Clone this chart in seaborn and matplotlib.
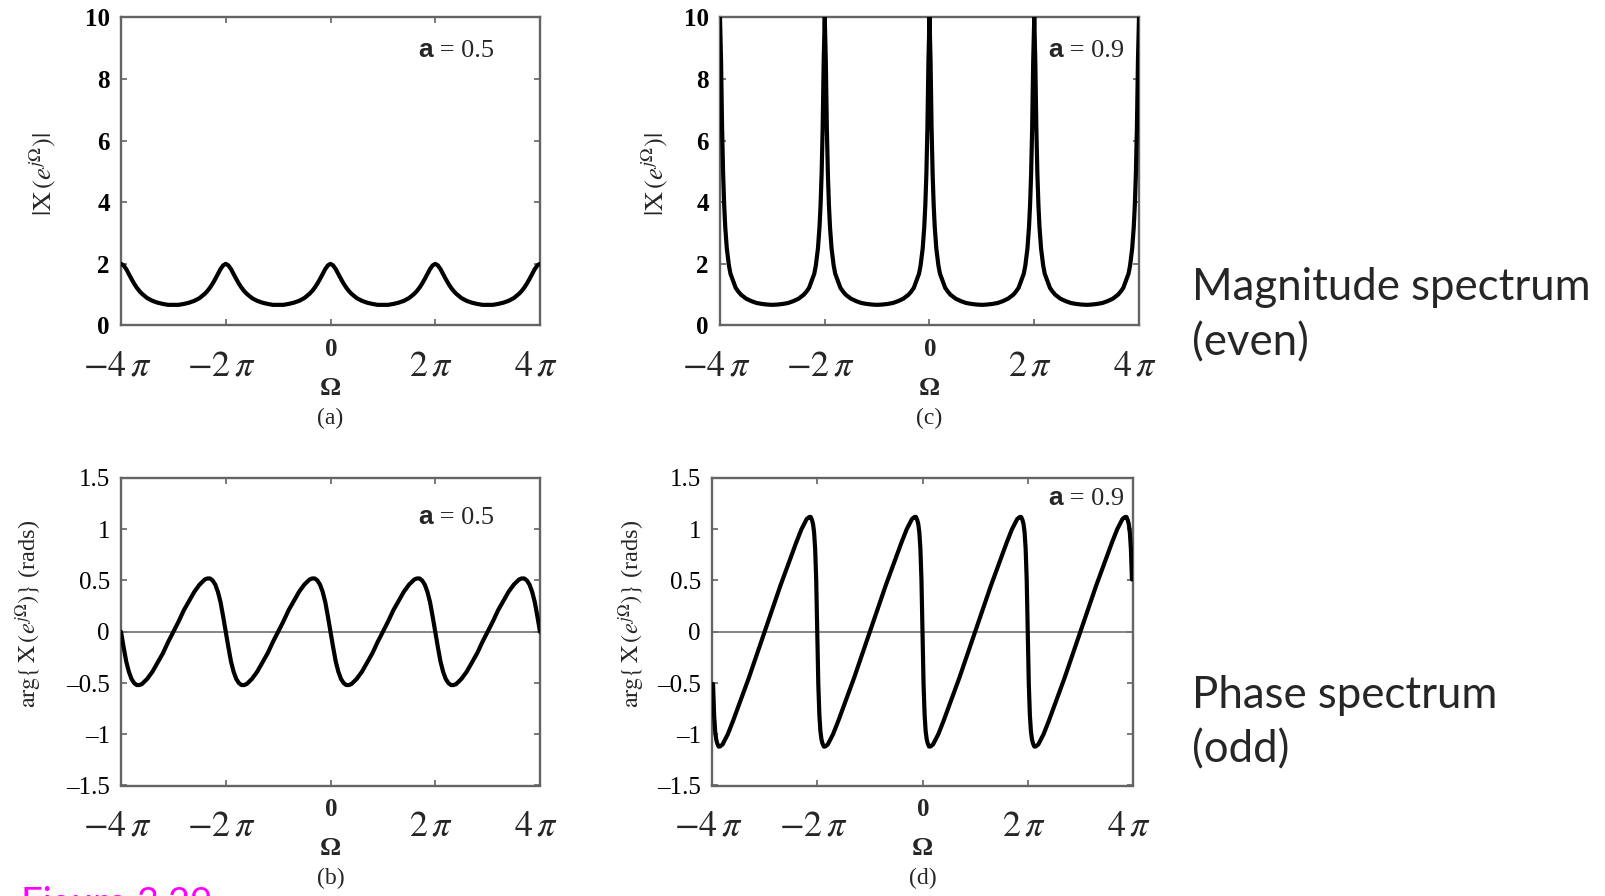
import numpy as np
import pandas as pd
import matplotlib
matplotlib.use("Agg")
import matplotlib.pyplot as plt
import seaborn as sns

# x[n] = a^n u[n], shown for two values of a
a_left = 0.5
a_right = 0.9

# Each trace is 2π-periodic; one period is listed, Ω in units of π,
# measured from a peak of |X| (Ω = 0, ±2π, ±4π).
mag_a05_offset = [0, .05, .1, .15, .2, .25, .3, .35, .4, .5, .6, .7, .8, .9, 1.0,
                  1.1, 1.2, 1.3, 1.4, 1.5, 1.6, 1.65, 1.7, 1.75, 1.8, 1.85, 1.9, 1.95, 2.0]
mag_a05_value = [2.0, 1.95, 1.83, 1.67, 1.51, 1.36, 1.23, 1.12, 1.03, 0.89, 0.80, 0.74, 0.70, 0.67, 0.67,
                 0.67, 0.70, 0.74, 0.80, 0.89, 1.03, 1.12, 1.23, 1.36, 1.51, 1.67, 1.83, 1.95, 2.0]

mag_a09_offset = [0, .02, .04, .06, .08, .1, .13, .17, .2, .25, .3, .35, .4, .5, .6, .7, .8, .9, 1.0,
                  1.1, 1.2, 1.3, 1.4, 1.5, 1.6, 1.65, 1.7, 1.75, 1.8, 1.83, 1.87, 1.9, 1.92, 1.94,
                  1.96, 1.98, 2.0]
mag_a09_value = [10.0, 8.6, 6.4, 4.9, 3.9, 3.2, 2.5, 1.95, 1.68, 1.45, 1.22, 1.10, 1.00, 0.87, 0.79,
                 0.73, 0.70, 0.68, 0.67, 0.68, 0.70, 0.73, 0.79, 0.87, 1.00, 1.10, 1.22, 1.45, 1.68,
                 1.95, 2.5, 3.2, 3.9, 4.9, 6.4, 8.6, 10.0]

phase_a05_offset = [0, .05, .1, .15, .2, .25, .3, .35, .4, .5, .6, .7, .8, .9, 1.0,
                    1.1, 1.2, 1.3, 1.4, 1.5, 1.6, 1.65, 1.7, 1.75, 1.8, 1.85, 1.9, 1.95, 2.0]
phase_a05_value = [0, -0.15, -0.29, -0.39, -0.46, -0.50, -0.52, -0.52, -0.51, -0.46, -0.39, -0.30,
                   -0.21, -0.10, 0, 0.10, 0.21, 0.30, 0.39, 0.46, 0.51, 0.52, 0.52, 0.50, 0.46,
                   0.39, 0.29, 0.15, 0]

phase_a09_offset = [0, .02, .04, .06, .08, .1, .125, .15, .175, .2, .25, .3, .4, .5, .6, .7, .8, .9,
                    1.0, 1.1, 1.2, 1.3, 1.4, 1.5, 1.6, 1.7, 1.75, 1.8, 1.825, 1.85, 1.875, 1.9,
                    1.92, 1.94, 1.96, 1.98, 2.0]
phase_a09_value = [0, -0.51, -0.81, -0.97, -1.05, -1.09, -1.12, -1.12, -1.11, -1.10, -1.05, -1.00,
                   -0.87, -0.73, -0.59, -0.45, -0.30, -0.15, 0, 0.15, 0.30, 0.45, 0.59, 0.73,
                   0.87, 1.00, 1.05, 1.10, 1.11, 1.12, 1.12, 1.09, 1.05, 0.97, 0.81, 0.51, 0]

# periods start at these multiples of π
period_starts = [-4, -2, 0, 2]
# Ω range (units of π) covered by each trace
full_span = (-4.0, 4.0)
phase_a09_span = (-3.99, 3.99)

# frequency axis
omega_ticks = [-4, -2, 0, 2, 4]
omega_tick_labels = [r"$-4\,\pi$", r"$-2\,\pi$", "0", r"$2\,\pi$", r"$4\,\pi$"]

mag_ticks = [0, 2, 4, 6, 8, 10]
mag_tick_labels = ["0", "2", "4", "6", "8", "10"]
phase_ticks = [-1.5, -1.0, -0.5, 0.0, 0.5, 1.0, 1.5]
phase_tick_labels = ["\u20131.5", "\u20131", "\u20130.5", "0", "0.5", "1", "1.5"]

mag_label = r"$|\mathrm{X}\,(e^{j\Omega})|$"
phase_label = r"$\mathrm{arg}\{\,\mathrm{X}\,(e^{j\Omega})\}$ (rads)"
side_notes = [("Magnitude spectrum", "(even)"), ("Phase spectrum", "(odd)")]
caption = "Figure 3.29"


def trace(offsets, values, span):
    """Repeat one listed period over the plotted range."""
    om, val = [], []
    for k, start in enumerate(period_starts):
        for i, (o, v) in enumerate(zip(offsets, values)):
            if k > 0 and i == 0:
                continue
            om.append(start + o)
            val.append(v)
    df = pd.DataFrame({"omega_pi": om, "value": val})
    df = df[(df["omega_pi"] >= span[0] - 1e-9) & (df["omega_pi"] <= span[1] + 1e-9)]
    df["omega"] = df["omega_pi"] * np.pi
    return df


sns.set_theme(style="ticks")
plt.rcParams["font.family"] = ["Liberation Serif", "DejaVu Serif"]
plt.rcParams["mathtext.fontset"] = "stix"

W, H = 1605, 896
fig = plt.figure(figsize=(W / 100, H / 100), dpi=100)


def rect(l, r, t, b):
    return [l / W, 1 - b / H, (r - l) / W, (b - t) / H]


SPINE = "#646464"
panels = [
    # data, a, kind, letter, axes box, ylabel pos, tag pos
    (trace(mag_a05_offset, mag_a05_value, full_span), a_left, "mag", "(a)",
     rect(121, 540, 17.3, 325.5), (-0.186, 0.49), (0.89, 0.89)),
    (trace(mag_a09_offset, mag_a09_value, full_span), a_right, "mag", "(c)",
     rect(720, 1139, 17.3, 325.5), (-0.155, 0.49), (0.964, 0.89)),
    (trace(phase_a05_offset, phase_a05_value, full_span), a_left, "phase", "(b)",
     rect(121, 540, 478, 785.5), (-0.22, 0.558), (0.89, 0.87)),
    (trace(phase_a09_offset, phase_a09_value, phase_a09_span), a_right, "phase", "(d)",
     rect(712, 1133, 478, 785.5), (-0.191, 0.558), (0.979, 0.933)),
]

for df, a, kind, letter, r, ylab_pos, tag_pos in panels:
    ax = fig.add_axes(r)
    if kind == "mag":
        yt, ytl, ylab, ylim = mag_ticks, mag_tick_labels, mag_label, (0, 10)
        tick_weight, ylab_size = "bold", 19
    else:
        yt, ytl, ylab, ylim = phase_ticks, phase_tick_labels, phase_label, (-1.5, 1.5)
        tick_weight, ylab_size = "normal", 17.5
        ax.axhline(0, color="#707070", lw=1.2, zorder=1)

    sns.lineplot(data=df, x="omega", y="value", ax=ax, color="black", linewidth=3.0,
                 errorbar=None, sort=False, zorder=3)

    ax.set_xlim(-4 * np.pi, 4 * np.pi)
    ax.set_ylim(*ylim)
    ax.set_xlabel("")
    ax.set_ylabel("")
    tick_pos = [t * np.pi for t in omega_ticks]
    ax.set_xticks(tick_pos, [""] * len(tick_pos))
    ax.set_yticks(yt, ytl)
    for lab in ax.get_yticklabels():
        lab.set_fontweight(tick_weight)
    ax.tick_params(direction="in", length=4.5, width=1.2, color=SPINE, labelcolor="black",
                   top=True, right=True, labelsize=18, pad=8)
    for sp in ax.spines.values():
        sp.set_visible(True)
        sp.set_color(SPINE)
        sp.set_linewidth(1.7)

    xtr = ax.get_xaxis_transform()
    for pos, lbl in zip(tick_pos, omega_tick_labels):
        if lbl == "0":
            ax.annotate(lbl, xy=(pos, 0), xycoords=xtr, xytext=(0.5, -17.6),
                        textcoords="offset points", ha="center", va="center",
                        fontsize=18, fontweight="bold")
        else:
            ax.annotate(lbl, xy=(pos, 0), xycoords=xtr, xytext=(-3, -30),
                        textcoords="offset points", ha="center", va="center",
                        fontsize=26)

    ax.annotate("\u03a9", xy=(0.5, 0), xycoords="axes fraction", xytext=(0, -45.5),
                textcoords="offset points", ha="center", va="center",
                fontsize=19, fontweight="bold")
    ax.annotate(letter, xy=(0.5, 0), xycoords="axes fraction", xytext=(0, -67),
                textcoords="offset points", ha="center", va="center", fontsize=17)

    ax.text(ylab_pos[0], ylab_pos[1], ylab, transform=ax.transAxes, rotation=90,
            ha="center", va="center", fontsize=ylab_size)

    # parameter tag: sans "a" followed by serif "= value"
    val_txt = ax.text(tag_pos[0], tag_pos[1], f" = {a:g}", transform=ax.transAxes,
                      ha="right", va="center", fontsize=19)
    ax.annotate("a", xy=(0, 0), xycoords=val_txt, ha="right", va="bottom",
                fontsize=19, fontweight="bold", family="Liberation Sans")

side_font = ["Lato", "DejaVu Sans"]
fig.text(1192 / W, 1 - 300 / H, side_notes[0][0], fontsize=31.5, family=side_font, va="baseline")
fig.text(1192 / W, 1 - 355 / H, side_notes[0][1], fontsize=31.5, family=side_font, va="baseline")
fig.text(1192 / W, 1 - 708 / H, side_notes[1][0], fontsize=31.5, family=side_font, va="baseline")
fig.text(1192 / W, 1 - 762 / H, side_notes[1][1], fontsize=31.5, family=side_font, va="baseline")
fig.text(21 / W, 1 - 915 / H, caption, fontsize=27.5, family=side_font, va="baseline",
         color="#ff00ff")

fig.savefig("out.png", dpi=100, facecolor="white")
